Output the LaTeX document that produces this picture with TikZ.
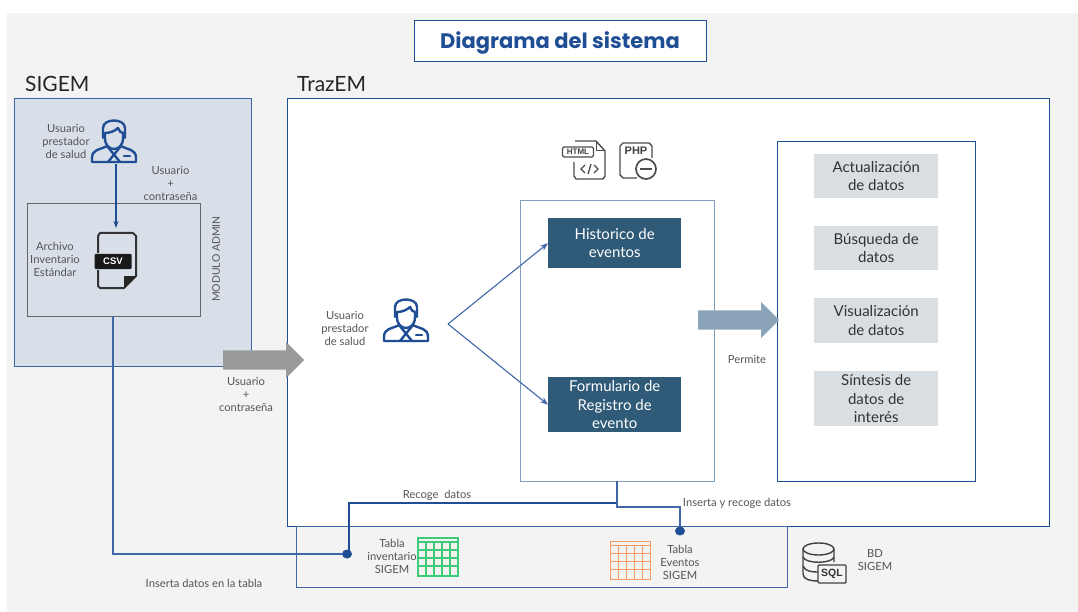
\documentclass[tikz,border=0pt]{standalone}
\usepackage{fontspec}
\setmainfont{Lato}
\newfontfamily\titlefont{Poppins}
\newfontfamily\iconfont{Liberation Sans}
\usetikzlibrary{arrows.meta,shapes.arrows,shapes.geometric}
\definecolor{bluel}{HTML}{1F4E94}
\definecolor{bluem}{HTML}{3F67A8}
\definecolor{txt}{HTML}{555555}
\definecolor{dkbox}{HTML}{2F5A78}
\definecolor{gybox}{HTML}{D9DEE3}
\definecolor{sigemfill}{HTML}{D9DFE9}
\definecolor{pagebg}{HTML}{F3F3F3}
\definecolor{webline}{HTML}{7F9FC0}
\definecolor{fatb}{HTML}{8BA3B8}
\definecolor{fatg}{HTML}{999A9C}
\definecolor{tgreen}{HTML}{3DCB78}
\definecolor{torange}{HTML}{F59A60}
\tikzset{
  x=1pt,y=-1pt,
  region/.style={draw=bluem,line width=1pt,anchor=north west,inner sep=0pt},
  lbl/.style={text=txt,align=center,inner sep=0pt,font=\fontsize{11.2}{13}\selectfont},
  head/.style={text=black!85,inner sep=0pt,anchor=west,font=\fontsize{21}{24}\selectfont},
  darkbox/.style={fill=dkbox,text=white,align=center,anchor=north west,inner sep=0pt,font=\fontsize{15}{18.5}\selectfont},
  graybox/.style={fill=gybox,text=black!80,align=center,anchor=north west,inner sep=0pt,font=\fontsize{15}{18.5}\selectfont},
  wire/.style={draw=bluel,line width=1.1pt},
  dotn/.style={ellipse,fill=bluel,inner sep=0pt,minimum width=10pt,minimum height=9pt},
  fat/.style={single arrow,single arrow head extend=8.5pt,single arrow tip angle=90,inner xsep=0pt,inner ysep=9.5pt,minimum height=81pt,anchor=west},
  person/.pic={
    \begin{scope}[draw=bluel,line width=2.4pt,line join=round,line cap=round]
      \draw (-11,-3) -- (-11,-13) .. controls (-11,-23) and (11,-23) .. (11,-13) -- (11,-3);
      \draw (-9,-8) .. controls (-4,-8) and (1,-10) .. (4,-13) .. controls (5,-10) and (7,-8) .. (9,-8);
      \draw (-9,-8) -- (-9,-3) .. controls (-9,5) and (-4,8) .. (0,8) .. controls (4,8) and (9,5) .. (9,-3) -- (9,-8);
      \draw (-7,5) .. controls (-14,9) and (-22,8) .. (-22,17) -- (-22,21) -- (22,21) -- (22,17) .. controls (22,8) and (14,9) .. (7,5);
      \draw (-7,5) -- (6,21) (7,5) -- (-6,21);
      \draw (10,15) -- (16,15);
    \end{scope}
  },
  gridt/.pic={
    \draw[line width=1.8pt,draw=#1] (-20,-19) rectangle (20,19);
    \draw[line width=1.8pt,draw=#1] (-20,-15) -- (20,-15);
    \foreach \q in {-12,-4,4,12}{\draw[line width=1.8pt,draw=#1] (\q,-15) -- (\q,19);}
    \foreach \q in {-7,1,9}{\draw[line width=1.8pt,draw=#1] (-20,\q) -- (20,\q);}
  },
}
\begin{document}
\begin{tikzpicture}
\useasboundingbox (0,0) rectangle (1078,612);
\fill[white] (0,0) rectangle (1078,612);
\fill[pagebg] (7,13) rectangle (1078,612);

% title
\node[draw=bluel,fill=white,line width=1pt,minimum width=292pt,minimum height=41pt,inner sep=0pt,anchor=north west] (title) at (414,20) {};
\node[text=bluel,inner sep=0pt,font=\titlefont\bfseries\fontsize{21}{24}\selectfont] (titlet) at (560,43) {Diagrama del sistema};

% regions
\node[head] (sigemh) at (25,84) {SIGEM};
\node[head] (trazh) at (297,84) {TrazEM};
\node[region,fill=sigemfill,minimum width=237pt,minimum height=268pt] (sigem) at (14,98) {};
\node[region,fill=white,draw=bluel,minimum width=761.5pt,minimum height=428pt] (traz) at (287,98) {};
\node[region,draw=black!60,minimum width=173pt,minimum height=113pt] (modulo) at (27,203) {};
\node[region,draw=bluem,minimum width=491pt,minimum height=61pt] (bd) at (296,526) {};
\node[region,draw=webline,minimum width=194pt,minimum height=281pt] (web) at (520,200) {};
\node[region,draw=bluel,minimum width=198pt,minimum height=340pt] (funcs) at (777,141) {};

% boxes
\node[darkbox,minimum width=133pt,minimum height=50pt] (hist) at (548,218) {Historico de\\eventos};
\node[darkbox,minimum width=133pt,minimum height=55pt] (form) at (548,377) {Formulario de\\Registro de\\evento};
\node[graybox,minimum width=124pt,minimum height=44pt] (g1) at (814,154) {Actualización\\de datos};
\node[graybox,minimum width=124pt,minimum height=44pt] (g2) at (814,226) {Búsqueda de\\datos};
\node[graybox,minimum width=124pt,minimum height=45pt] (g3) at (814,298) {Visualización\\de datos};
\node[graybox,minimum width=124pt,minimum height=55pt] (g4) at (814,371) {Síntesis de\\datos de\\interés};

% fat arrows
\node[fat,fill=fatg] (a1) at (223,360) {};
\node[fat,fill=fatb] (a2) at (698,320) {};

% icons
\pic at (114,141) {person};
\pic at (406,320) {person};
\pic at (438,557) {gridt={tgreen}};
\pic at (630.5,560.5) {gridt={torange}};

% CSV icon
\draw[line width=2pt,black!80,line join=round] (98,253) -- (98,236) -- (100,233) -- (133,233) -- (136,236) -- (136,276) -- (124,288) -- (100,288) -- (98,286) -- (98,270);
\fill[black!85] (124,288) -- (124,276) -- (136,276) -- cycle;
\node[fill=black!90,text=white,rounded corners=1pt,minimum width=37pt,minimum height=15pt,inner sep=0pt,font=\iconfont\bfseries\fontsize{9.5}{10}\selectfont] (csv) at (113,261.5) {CSV};

% HTML icon
\draw[line width=1.4pt,black!70,line join=round] (575,141) -- (596,141) -- (605,151) -- (605,176) -- (603,179) -- (576,179) -- (574,176) -- (574,162);
\draw[line width=1pt,black!70] (596,141) -- (596,151) -- (605,151);
\node[draw=black!70,fill=white,line width=1.3pt,rounded corners=1.5pt,minimum width=31pt,minimum height=10pt,inner sep=0pt,text=black!75,font=\iconfont\bfseries\fontsize{8}{8}\selectfont] (htmlic) at (578,152) {HTML};
\draw[line width=1.3pt,black!70] (585,165) -- (581,169) -- (585,173) (594,165) -- (598,169) -- (594,173) (591,164) -- (588,174);
% PHP icon
\draw[line width=1.4pt,black!70,line join=round] (620,170) -- (620,146) -- (623,143) -- (649,143) -- (652,146) -- (652,158) (620,170) -- (620,175) -- (623,178) -- (637,178);
\node[text=black!75,inner sep=0pt,font=\iconfont\bfseries\fontsize{11}{11}\selectfont] (phpic) at (636,151) {PHP};
\draw[line width=1.7pt,black!70] (646,169) circle (10pt);
\draw[line width=1.7pt,black!70] (640,169) -- (652,169);

% SQL icon
\draw[line width=1.4pt,black!75] (803,549) -- (803,574) .. controls (803,580) and (812,581) .. (818,581) (834,549) -- (834,562);
\draw[line width=1.4pt,black!75] (818.5,549) ellipse (15.5pt and 6pt);
\draw[line width=1.4pt,black!75] (803,557) .. controls (805,564) and (832,564) .. (834,557);
\draw[line width=1.4pt,black!75] (803,566) .. controls (805,572) and (814,572) .. (818,572);
\node[draw=black!75,fill=pagebg,line width=1.4pt,rounded corners=1pt,minimum width=28pt,minimum height=18pt,inner sep=0pt,text=black!80,font=\iconfont\bfseries\fontsize{10.5}{11}\selectfont] (sqlic) at (832,574) {SQL};

% connectors
\coordinate (p1) at (116,164);
\coordinate (csvtop) at (116,228);
\draw[wire,-{Stealth[length=7pt,width=5pt]}] (p1) -- (csvtop);
\coordinate (fork) at (448,324);
\draw[wire,draw=bluem,-{Stealth[length=8pt,width=6pt]}] (fork) -- (hist.west);
\draw[wire,draw=bluem,-{Stealth[length=8pt,width=6pt]}] (fork) -- (form.west);
\node[dotn] (d1) at (347,554) {};
\node[dotn] (d2) at (680,531) {};
\coordinate (modb) at (113,316);
\draw[wire,draw=bluem] (modb) |- (d1);
\coordinate (webb) at (617,481);
\draw[wire] ([xshift=2pt]d1.center) -- (349,503) -- (617,503);
\draw[wire,draw=bluem] (webb) -- (617,507) -- (680,507) -- (d2);

% labels
\node[lbl] (t1) at (66,141) {Usuario\\prestador\\de salud};
\node[lbl] (t2) at (170.5,183) {Usuario\\+\\contraseña};
\node[lbl] (t3) at (55,259) {Archivo\\Inventario\\Estándar};
\node[lbl,rotate=90,font=\fontsize{10.5}{13}\selectfont] (t4) at (216,259) {MODULO ADMIN};
\node[lbl] (t5) at (246,394) {Usuario\\+\\contraseña};
\node[lbl] (t6) at (345,328) {Usuario\\prestador\\de salud};
\node[lbl] (t7) at (747,359) {Permite};
\node[lbl] (t8) at (437,495) {Recoge\ \ datos};
\node[lbl] (t9) at (737,503) {Inserta y recoge datos};
\node[lbl] (t10) at (392,556) {Tabla\\inventario\\SIGEM};
\node[lbl] (t11) at (680,562) {Tabla\\Eventos\\SIGEM};
\node[lbl] (t12) at (875,560) {BD\\SIGEM};
\node[lbl] (t13) at (204,583) {Inserta datos en la tabla};
\end{tikzpicture}
\end{document}
